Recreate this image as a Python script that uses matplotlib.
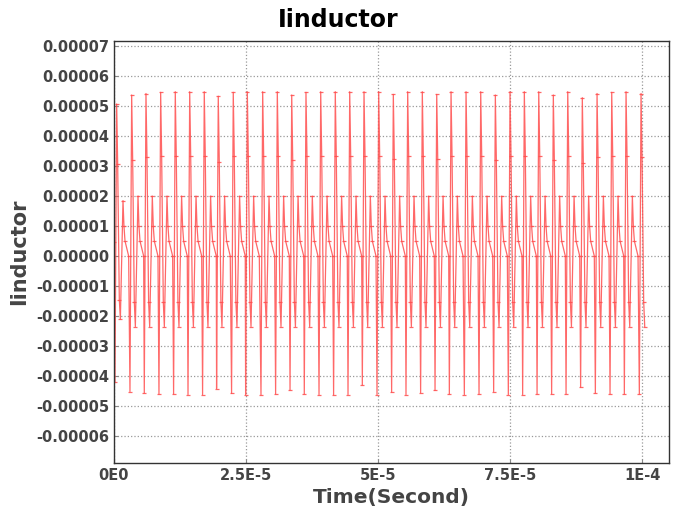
import numpy as np
import matplotlib
matplotlib.use("Agg")
import matplotlib.pyplot as plt
from matplotlib.ticker import FuncFormatter

# peak times (microseconds)
peak_t_us = [0.51, 3.35, 6.06, 8.84, 11.61, 14.34, 17.10, 19.75, 22.59, 25.25,
             28.16, 30.93, 33.66, 36.36, 39.15, 41.91, 44.64, 47.35, 50.13, 52.90,
             55.62, 58.39, 61.12, 63.83, 66.67, 69.45, 72.22, 75.00, 77.71, 80.44,
             83.20, 85.93, 88.69, 91.48, 94.26, 96.97, 99.81]
# values in units of 1e-5 A
peak_val = [5.07, 5.37, 5.42, 5.46, 5.48, 5.48, 5.48, 5.33, 5.46, 5.48,
            5.48, 5.48, 5.37, 5.46, 5.48, 5.48, 5.48, 5.48, 5.48, 5.39,
            5.48, 5.48, 5.39, 5.48, 5.48, 5.48, 5.37, 5.48, 5.48, 5.48,
            5.37, 5.48, 5.28, 5.42, 5.46, 5.48, 5.42]
post_val = [3.07, 3.20, 3.30, 3.33, 3.33, 3.33, 3.33, 3.15, 3.33, 3.33,
            3.33, 3.33, 3.20, 3.33, 3.33, 3.33, 3.33, 3.33, 3.33, 3.25,
            3.33, 3.33, 3.25, 3.33, 3.33, 3.33, 3.20, 3.33, 3.33, 3.33,
            3.20, 3.33, 3.11, 3.30, 3.33, 3.33, 3.30]
trough_val = [-4.20, -4.52, -4.57, -4.60, -4.60, -4.62, -4.62, -4.42, -4.58, -4.62,
              -4.63, -4.60, -4.47, -4.60, -4.62, -4.63, -4.62, -4.30, -4.62, -4.54,
              -4.62, -4.56, -4.48, -4.60, -4.62, -4.60, -4.52, -4.62, -4.62, -4.60,
              -4.60, -4.60, -4.37, -4.57, -4.60, -4.60, -4.60]
low_val = [-2.10] + [-2.35] * 36
hump_val = [1.85] + [2.0] * 36
dip_val = [-1.45] + [-1.52] * 36

# shape of one cycle after the peak: offset (us) and value (1e-5 A)
after_off = [0.19, 0.50, 0.70, 1.20, 1.38, 1.58, 2.27]
mid_val = [1.0, 0.5, 0.0]
trough_off = -0.32
start_t, start_v = 0.0, 0.47
end_t = 100.55

t = [start_t]
v = [start_v]
for k in range(len(peak_t_us)):
    tp = peak_t_us[k]
    t.append(tp + trough_off)
    v.append(trough_val[k])
    t.append(tp)
    v.append(peak_val[k])
    vals = [post_val[k], dip_val[k], low_val[k], hump_val[k]] + mid_val
    for off, val in zip(after_off, vals):
        if tp + off <= end_t:
            t.append(tp + off)
            v.append(val)

t = np.array(t) * 1e-6
v = np.array(v) * 1e-5

fig = plt.figure(figsize=(6.76, 5.09), dpi=100)
ax = fig.add_axes([0.1686, 0.0904, 0.821, 0.8290])

ax.plot(t, v, color="#ff4d4d", lw=0.9, alpha=0.85,
        marker="_", markersize=3, markeredgewidth=0.9)

ax.set_xlim(0, 1.051e-4)
ax.set_ylim(-6.9e-5, 7.17e-5)

ax.set_xticks([0, 2.5e-5, 5e-5, 7.5e-5, 1e-4])
ax.set_xticklabels(["0E0", "2.5E-5", "5E-5", "7.5E-5", "1E-4"])
ax.set_yticks(np.arange(-6, 8) * 1e-5)


def yfmt(val, pos):
    s = f"{val:.5f}"
    if s == "-0.00000":
        s = "0.00000"
    return s


ax.yaxis.set_major_formatter(FuncFormatter(yfmt))

ax.grid(True, color="#999999", linestyle=":", linewidth=0.9)
ax.tick_params(direction="in", length=3, color="#888888",
               labelsize=10.5, labelcolor="#444444")
for lab in ax.get_xticklabels() + ax.get_yticklabels():
    lab.set_fontweight("bold")
for s in ax.spines.values():
    s.set_color("#333333")
    s.set_linewidth(1.0)

fig.suptitle("Iinductor", x=0.5, y=0.985, fontsize=17, fontweight="bold")
ax.set_xlabel("Time(Second)", fontsize=14.5, fontweight="bold", color="#444444", labelpad=4)
ax.set_ylabel("Iinductor", fontsize=15, fontweight="bold", color="#444444", labelpad=5)

fig.savefig("out.png", dpi=100)
